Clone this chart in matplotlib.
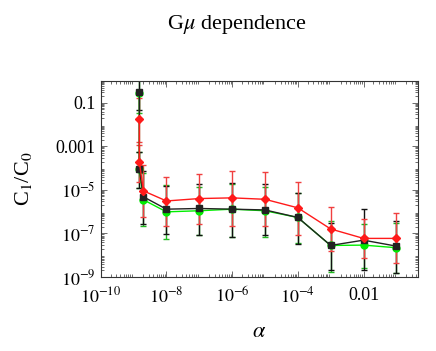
import matplotlib
matplotlib.use("Agg")
import matplotlib.pyplot as plt
from matplotlib.ticker import FixedLocator, LogLocator, NullFormatter

plt.rcParams["font.family"] = ["Liberation Serif", "DejaVu Serif"]
plt.rcParams["mathtext.fontset"] = "stix"

# alpha values (x) for each series
x_green = [1.5e-9, 1.5e-9, 2e-9, 1e-8, 1e-7, 1e-6, 1e-5, 1e-4, 1e-3, 1e-2, 1e-1]
x_black = [1.5e-9, 1.5e-9, 2e-9, 1e-8, 1e-7, 1e-6, 1e-5, 1e-4, 1e-3, 1e-2, 1e-1]
x_red = [1.5e-9, 1.5e-9, 2e-9, 1e-8, 1e-7, 1e-6, 1e-5, 1e-4, 1e-3, 1e-2, 1e-1]

# C1/C0 central values, lower and upper error-bar ends
y_green = [0.27, 9.0e-5, 3.5e-6, 9.8e-7, 1.1e-6, 1.3e-6, 1.1e-6, 5.4e-7, 2.8e-8, 2.9e-8, 2.2e-8]
lo_green = [0.034, 1.2e-5, 2.1e-7, 5.5e-8, 8.7e-8, 7.2e-8, 6.5e-8, 3.6e-8, 1.7e-9, 2.6e-9, 1.5e-9]
hi_green = [2.0, 5.5e-4, 6.0e-5, 1.6e-5, 1.3e-5, 1.8e-5, 1.4e-5, 7.5e-6, 3.9e-7, 2.8e-7, 3.0e-7]

y_black = [0.31, 9.2e-5, 4.8e-6, 1.3e-6, 1.4e-6, 1.3e-6, 1.2e-6, 5.4e-7, 2.8e-8, 4.9e-8, 2.6e-8]
lo_black = [0.047, 1.2e-5, 2.8e-7, 9.6e-8, 8.7e-8, 7.2e-8, 8.3e-8, 3.3e-8, 2.0e-9, 2.0e-9, 1.5e-9]
hi_black = [2.0, 5.5e-4, 7.7e-5, 1.5e-5, 1.8e-5, 2.1e-5, 1.8e-5, 7.1e-6, 3.0e-7, 1.3e-6, 3.9e-7]

y_red = [0.018, 1.9e-4, 9.0e-6, 3.1e-6, 4.0e-6, 4.3e-6, 3.7e-6, 1.5e-6, 1.6e-7, 5.9e-8, 5.9e-8]
lo_red = [1.6e-3, 2.4e-5, 5.4e-7, 2.2e-7, 2.8e-7, 2.1e-7, 2.1e-7, 8.3e-8, 1.6e-8, 7.4e-9, 4.2e-9]
hi_red = [0.17, 1.2e-3, 1.4e-4, 3.8e-5, 5.4e-5, 7.7e-5, 6.5e-5, 2.4e-5, 1.6e-6, 4.5e-7, 8.5e-7]

x_ticks = [1e-10, 1e-8, 1e-6, 1e-4, 1e-2]
x_ticklabels = ["$10^{-10}$", "$10^{-8}$", "$10^{-6}$", "$10^{-4}$", "0.01"]
y_ticks = [1e-1, 1e-3, 1e-5, 1e-7, 1e-9]
y_ticklabels = ["0.1", "0.001", "$10^{-5}$", "$10^{-7}$", "$10^{-9}$"]


def draw(ax, x, y, lo, hi, color, marker, ms, ecolor):
  yerr = [[v - l for v, l in zip(y, lo)], [h - v for v, h in zip(y, hi)]]
  ax.errorbar(x, y, yerr=yerr, color=color, ecolor=ecolor, marker=marker, ms=ms,
              lw=1, elinewidth=1, capsize=2.5, capthick=1)


fig = plt.figure(figsize=(4.36, 3.51), dpi=100)
ax = fig.add_axes([0.231, 0.211, 0.728, 0.558])

draw(ax, x_green, y_green, lo_green, hi_green, "#00ee00", "o", 5, "#22bb22")
draw(ax, x_black, y_black, lo_black, hi_black, "#222222", "s", 5, "#111111")
draw(ax, x_red, y_red, lo_red, hi_red, "#ff1a1a", "D", 4, "#f04040")

ax.set_xscale("log")
ax.set_yscale("log")
ax.set_xlim(1e-10, 0.46)
ax.set_ylim(1e-9, 1)

ax.xaxis.set_major_locator(FixedLocator(x_ticks))
ax.set_xticklabels(x_ticklabels)
ax.yaxis.set_major_locator(FixedLocator(y_ticks))
ax.set_yticklabels(y_ticklabels)
ax.xaxis.set_minor_locator(LogLocator(base=10, subs=range(2, 10), numticks=50))
ax.yaxis.set_minor_locator(LogLocator(base=10, subs=range(2, 10), numticks=50))
ax.xaxis.set_minor_formatter(NullFormatter())
ax.yaxis.set_minor_formatter(NullFormatter())

ax.tick_params(which="both", direction="in", top=True, right=True, color="#555555",
               labelsize=13, width=0.6)
ax.tick_params(which="major", length=4)
ax.tick_params(which="minor", length=2)
ax.tick_params(axis="x", which="major", pad=7)
for s in ax.spines.values():
  s.set_linewidth(0.8)
  s.set_color("#333333")

ax.set_xlabel(r"$\alpha$", fontsize=16, labelpad=12)
ax.set_ylabel(r"C$_1$/C$_0$", fontsize=16, labelpad=16)
fig.text(0.543, 0.93, r"G$\mu$ dependence", ha="center", va="center", fontsize=16)

fig.savefig("out.png", dpi=100)
